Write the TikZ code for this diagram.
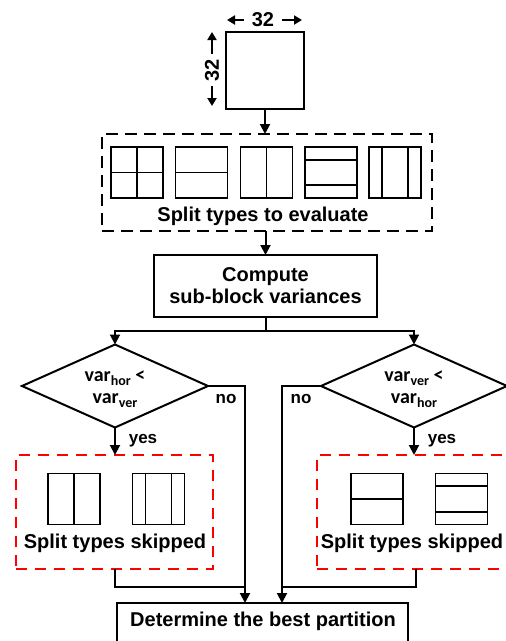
\documentclass[tikz,border=0pt]{standalone}
\usepackage{fontspec}
\setmainfont{Liberation Sans}
\newfontfamily\calfont{Carlito}
\usetikzlibrary{shapes.geometric,arrows.meta,calc}
\newcommand{\sbs}[1]{{\fontsize{14}{14}\selectfont\raisebox{-3.5pt}{#1}}}
\begin{document}
\begin{tikzpicture}[x=1pt,y=-1pt,
  every node/.style={inner sep=0pt, outer sep=0pt},
  txt/.style={font=\bfseries\fontsize{20}{22}\selectfont},
  lab/.style={font=\bfseries\fontsize{17}{17}\selectfont, anchor=base},
  box/.style={draw, line width=1.8pt},
  dbox/.style={draw, line width=2.6pt, dash pattern=on 12pt off 7pt},
  rbox/.style={draw=red, line width=2.8pt, dash pattern=on 11pt off 8pt},
  dia/.style={draw, line width=2pt, diamond, aspect=2.2, minimum width=186pt, minimum height=83pt},
  dtxt/.style={align=center, font=\calfont\bfseries\fontsize{20}{22}\selectfont},
  conn/.style={line width=2pt},
  arr/.style={line width=2pt, -{Triangle[length=10pt,width=10pt]}},
  dimarr/.style={line width=2pt, -{Triangle[length=8pt,width=9pt]}},
  sq/.style={line width=1.7pt},
  pics/quad/.style={code={\draw[sq] (-26,-25.5) rectangle (26,25.5); \draw[sq] (0,-25.5) -- (0,25.5) (-26,0) -- (26,0);}},
  pics/hbin/.style={code={\draw[sq] (-26,-25.5) rectangle (26,25.5); \draw[sq] (-26,0) -- (26,0);}},
  pics/vbin/.style={code={\draw[sq] (-26,-25.5) rectangle (26,25.5); \draw[sq] (0,-25.5) -- (0,25.5);}},
  pics/htt/.style={code={\draw[sq] (-26,-25.5) rectangle (26,25.5); \draw[sq] (-26,-12.75) -- (26,-12.75) (-26,12.75) -- (26,12.75);}},
  pics/vtt/.style={code={\draw[sq] (-26,-25.5) rectangle (26,25.5); \draw[sq] (-13,-25.5) -- (-13,25.5) (13,-25.5) -- (13,25.5);}},
]
\useasboundingbox (0,0) rectangle (506,641);

% top block with dimensions
\node[box, minimum width=78pt, minimum height=77pt] (blk) at (265,70.5) {};
\node[txt] (w) at (263,20) {32};
\coordinate (wl) at (227,20);
\coordinate (wr) at (302,20);
\draw[dimarr] ([xshift=-8pt]w.west) -- (wl);
\draw[dimarr] ([xshift=8pt]w.east) -- (wr);
\node[txt, rotate=90] (h) at (212,70) {32};
\coordinate (ht) at (212,32);
\coordinate (hb) at (212,106);
\draw[dimarr] ([yshift=5pt]h.east) -- (ht);
\draw[dimarr] ([yshift=-5pt]h.west) -- (hb);

% split types to evaluate
\node[dbox, minimum width=330pt, minimum height=97pt] (eval) at (267,182.5) {};
\pic at (137,172.5) {quad};
\pic at (201.5,172.5) {hbin};
\pic at (266.5,172.5) {vbin};
\pic at (331,172.5) {htt};
\pic at (395,172.5) {vtt};
\node[txt, anchor=base] (evalt) at (263,221) {Split types to evaluate};
\draw[arr] (blk.south) -- (blk.south |- eval.north);

% compute
\node[box, txt, minimum width=223pt, minimum height=62pt, align=center] (comp) at (265.5,286) {Compute\\sub-block variances};
\draw[arr] (comp.north |- eval.south) -- (comp.north);

% diamonds
\node[dia] (d1) at (115,386) {};
\node[dia] (d2) at (414,386) {};
\node[dtxt] (d1t) at ($(d1.center)+(0,3)$) {var\sbs{hor} <\\var\sbs{ver}};
\node[dtxt] (d2t) at ($(d2.center)+(0,3)$) {var\sbs{ver} <\\var\sbs{hor}};
\coordinate (sp) at ($(comp.south)+(0,14)$);
\draw[conn] (comp.south) -- (sp);
\draw[arr] (sp) -| (d1.north);
\draw[arr] (sp) -| (d2.north);

% skipped boxes
\node[rbox, minimum width=197pt, minimum height=114pt] (r1) at (114.5,512) {};
\node[rbox, minimum width=197pt, minimum height=114pt] (r2) at (415.5,512) {};
\pic at (74,499) {vbin};
\pic at (158.5,499) {vtt};
\pic at (377,499) {hbin};
\pic at (461.5,499) {htt};
\node[txt, anchor=base] (r1t) at (115,548) {Split types skipped};
\node[txt, anchor=base] (r2t) at (412,548) {Split types skipped};

% bottom box
\node[box, minimum width=291pt, minimum height=60pt, anchor=north] (bot) at (262.5,603) {};
\node[txt, anchor=base] (bott) at (263,626) {Determine the best partition};

% yes branches
\draw[arr] (d1.south) -- (d1.south |- r1.north);
\draw[arr] (d2.south) -- (d2.south |- r2.north);
\node[lab] (y1) at (143,443) {yes};
\node[lab] (y2) at (442,443) {yes};

% no branches
\coordinate (n1) at (245,386);
\coordinate (n2) at (282,386);
\draw[arr] (d1.east) -- (n1) -- (n1 |- bot.north);
\draw[arr] (d2.west) -- (n2) -- (n2 |- bot.north);
\node[lab] (no1) at (226,403) {no};
\node[lab] (no2) at (301,403) {no};

% returns from skipped boxes
\coordinate (j1) at (245,587);
\coordinate (j2) at (282,587);
\draw[conn] (r1.south) |- (j1);
\draw[conn] (r2.south) |- (j2);
\end{tikzpicture}
\end{document}
